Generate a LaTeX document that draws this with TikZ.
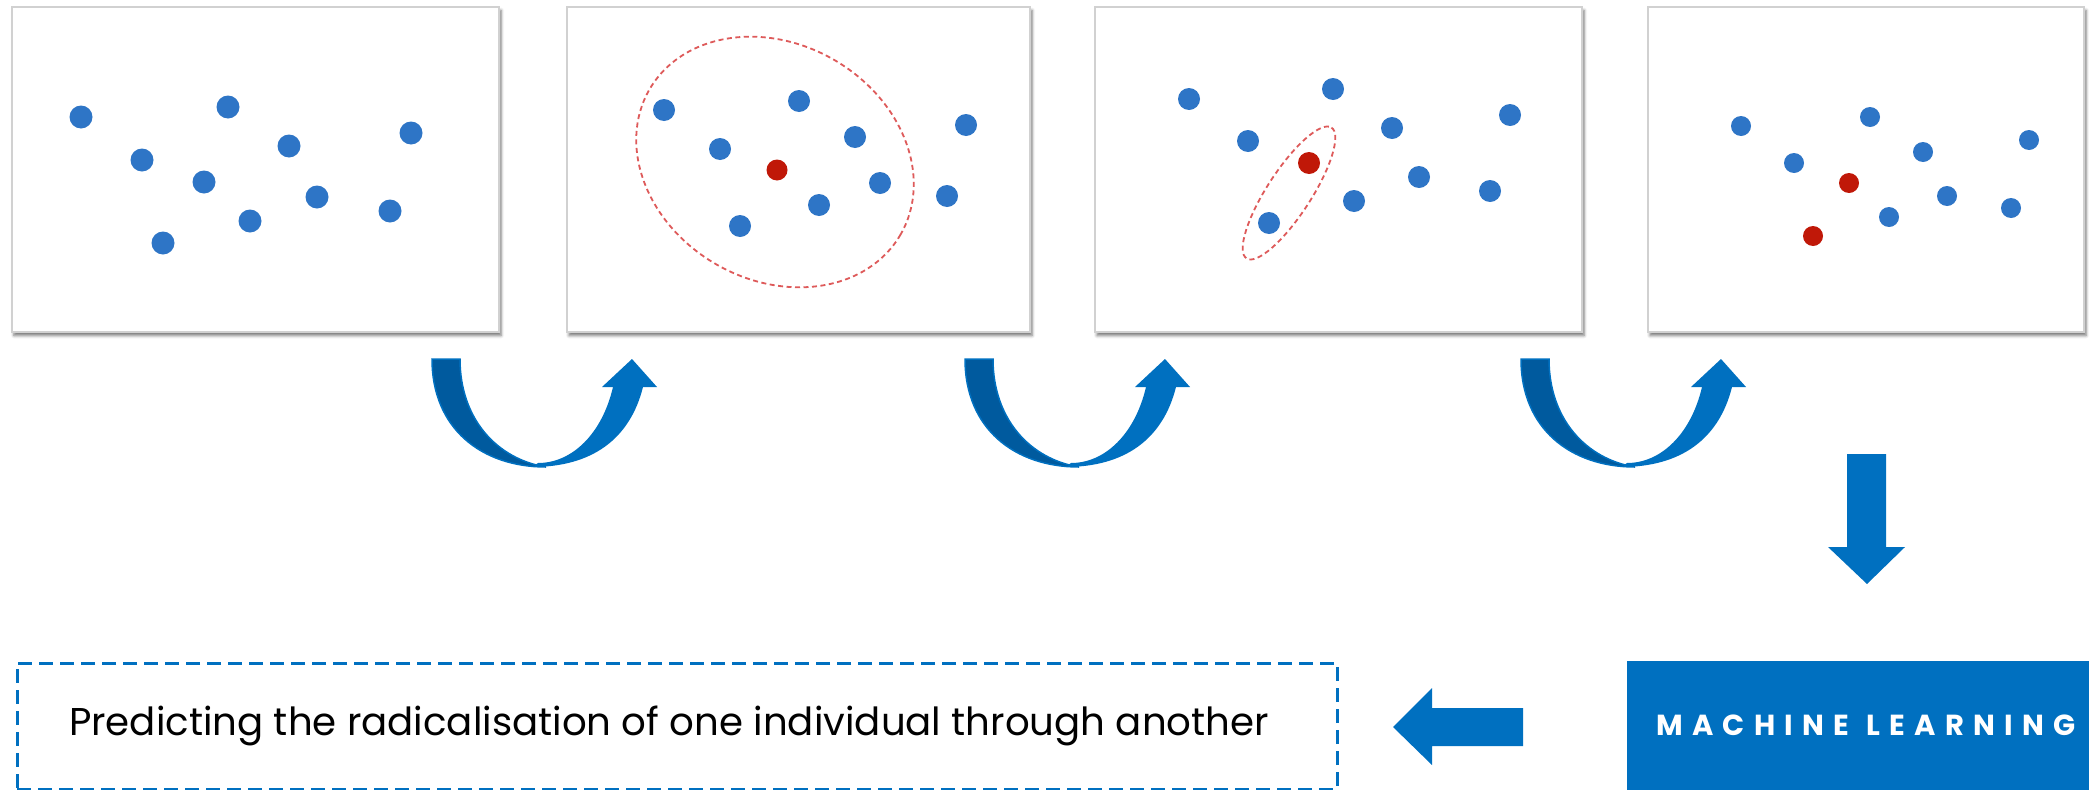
\documentclass[tikz,border=0pt]{standalone}
\usepackage{fontspec}
\setmainfont{Poppins}
\newfontfamily\mlfont[LetterSpace=32]{Poppins}
\usepackage{tikz}
\usetikzlibrary{positioning, shadows.blur}
\usepackage{xcolor}
\definecolor{mlblue}{RGB}{0,112,192}
\definecolor{shadeblue}{RGB}{0,90,158}
\definecolor{dotblue}{RGB}{46,117,198}
\definecolor{dotred}{RGB}{192,24,8}
\definecolor{ringred}{RGB}{222,90,90}
\tikzstyle{panel} = [rectangle, draw=black!18, line width=1.2pt, fill=white, minimum height=325pt, blur shadow={shadow xshift=2pt, shadow yshift=-3.5pt, shadow blur radius=3pt, shadow opacity=55}]
\tikzstyle{bdot} = [fill=dotblue]
\tikzstyle{rdot} = [fill=dotred]
\tikzstyle{ring} = [draw=ringred, line width=1.8pt, dash pattern=on 5pt off 3.5pt]
\tikzstyle{blockarrow} = [fill=mlblue]
\tikzstyle{mlbox} = [rectangle, fill=mlblue, text=white, minimum width=478pt, minimum height=129pt, font=\mlfont\fontsize{29}{32}\selectfont\bfseries]
\tikzstyle{result} = [rectangle, draw=mlblue, line width=3pt, dash pattern=on 14pt off 7pt, minimum width=1320pt, minimum height=126pt, font=\fontsize{38.7}{46}\selectfont]

% u-turn block arrow, left arm in shade
\newcommand{\uturn}[1]{%
  \begin{scope}[shift={(#1)}]
    \fill[blockarrow] (100,108) .. controls (160,108) and (198,80) .. (211,28)
      -- (225,28) -- (200,0) -- (170,28) -- (181,28)
      .. controls (170,75) and (140,104) .. (106,104) -- cycle;
    \filldraw[fill=shadeblue, draw=mlblue, line width=1.5pt]
      (0,0) .. controls (0,70) and (50,108) .. (114,108)
      .. controls (65,100) and (28,60) .. (28,0) -- cycle;
  \end{scope}}

\begin{document}
\begin{tikzpicture}[x=1pt, y=-1pt]
    \useasboundingbox (0,0) rectangle (2089,790);

    % Nodes
    \node (p1) [panel, minimum width=487pt] at (255.5,169.5) {};
    \node (p2) [panel, minimum width=463pt] at (798.5,169.5) {};
    \node (p3) [panel, minimum width=487pt] at (1338.5,169.5) {};
    \node (p4) [panel, minimum width=436pt] at (1866,169.5) {};

    \node (ml) [mlbox] at (1866,725.5) {MACHINE\ \kern2pt LEARNING};
    \node (pred) [result] at (677,726) {Predicting the radicalisation of one individual through another\hspace*{16pt}};

    % Points
    \foreach \x/\y in {81/117, 228/107, 142/160, 289/146, 411/133, 204/182, 317/197, 390/211, 250/221, 163/243}
        \fill[bdot] (\x,\y) circle (11.5);

    \foreach \x/\y in {664/110, 799/101, 720/149, 855/137, 966/125, 880/183, 947/196, 819/205, 740/226}
        \fill[bdot] (\x,\y) circle (11);
    \fill[rdot] (777,170) circle (10.5);
    \draw[ring, rotate around={-30:(775,162)}] (775,162) ellipse [x radius=145, y radius=118];

    \foreach \x/\y in {1189/99, 1333/89, 1248/141, 1392/128, 1510/115, 1419/177, 1490/191, 1354/201, 1269/223}
        \fill[bdot] (\x,\y) circle (11);
    \fill[rdot] (1309,163) circle (11);
    \draw[ring, rotate around={57:(1289,193)}] (1289,193) ellipse [x radius=78, y radius=22];

    \foreach \x/\y in {1741/126, 1870/117, 1794/163, 1923/152, 2029/140, 1947/196, 2011/208, 1889/217}
        \fill[bdot] (\x,\y) circle (10);
    \fill[rdot] (1849,183) circle (10);
    \fill[rdot] (1813,236) circle (10);

    % Arrows
    \uturn{432,359}
    \uturn{965,359}
    \uturn{1521,359}

    \fill[blockarrow] (1847,454) -- (1886,454) -- (1886,547) -- (1905,547)
        -- (1867,584) -- (1828,547) -- (1847,547) -- cycle;
    \fill[blockarrow] (1523,708) -- (1432,708) -- (1432,688) -- (1393,727)
        -- (1432,765) -- (1432,746) -- (1523,746) -- cycle;
\end{tikzpicture}
\end{document}
